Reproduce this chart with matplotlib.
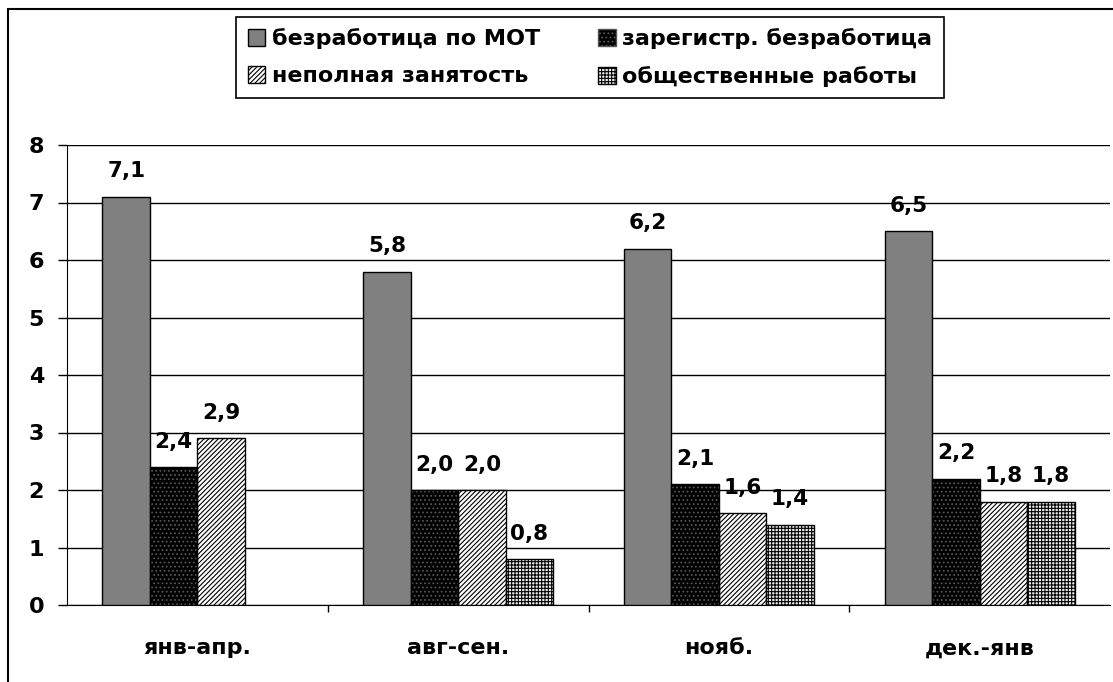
import numpy as np
import matplotlib.pyplot as plt
from matplotlib.patches import Rectangle, Patch

plt.rcParams['font.family'] = ['DejaVu Sans']
plt.rcParams['font.weight'] = 'bold'
plt.rcParams['hatch.linewidth'] = 0.8

periods = ['янв-апр.', 'авг-сен.', 'нояб.', 'дек.-янв']
series_names = ['безработица по МОТ', 'зарегистр. безработица',
                'неполная занятость', 'общественные работы']
ilo = [7.1, 5.8, 6.2, 6.5]
registered = [2.4, 2.0, 2.1, 2.2]
underemployed = [2.9, 2.0, 1.6, 1.8]
public_works = [np.nan, 0.8, 1.4, 1.8]
yticks = [0, 1, 2, 3, 4, 5, 6, 7, 8]

fig = plt.figure(figsize=(11.13, 6.82), dpi=100)
ax = fig.add_axes([67/1113, 1-605/682, 1043/1113, 460/682])

# рамка вокруг диаграммы
fig.patches.append(Rectangle((8/1113, -0.1), 1.2, 1.1-9/682, transform=fig.transFigure,
                             fill=False, edgecolor='black', linewidth=1.5))

x = np.arange(len(periods))
w = 0.182
offs = [-1.5*w, -0.5*w, 0.5*w, 1.5*w]
data = [ilo, registered, underemployed, public_works]

ax.bar(x+offs[0], ilo, w, color='#808080', edgecolor='black', linewidth=1, zorder=3)
# чёрные с точками
ax.bar(x+offs[1], registered, w, color='black', edgecolor='#555555', hatch='....', linewidth=0, zorder=3)
ax.bar(x+offs[1], registered, w, fill=False, edgecolor='black', linewidth=1, zorder=4)
ax.bar(x+offs[2], underemployed, w, color='white', edgecolor='black', hatch='///////', linewidth=1, zorder=3)
ax.bar(x+offs[3], public_works, w, color='#f0f0f0', edgecolor='black', hatch='+++++', linewidth=1, zorder=3)

for vals, o in zip(data, offs):
    for xi, v in zip(x, vals):
        if np.isnan(v):
            continue
        ax.annotate(f'{v:.1f}'.replace('.', ','), (xi+o, v), xytext=(0, 14),
                    textcoords='offset points', ha='center', va='baseline',
                    fontsize=15.5, fontweight='bold')

ax.set_ylim(0, 8)
ax.set_xlim(-0.5, 3.5)
ax.set_yticks(yticks)
ax.yaxis.grid(True, color='black', linewidth=1)
ax.set_axisbelow(True)
ax.set_xticks(x)
ax.set_xticklabels(periods)
ax.set_xticks(np.arange(0.5, 3.5, 1), minor=True)
ax.tick_params(axis='x', which='major', length=0, pad=24, labelsize=16)
ax.tick_params(axis='x', which='minor', length=5, width=1, direction='out')
ax.tick_params(axis='y', length=6.5, width=1, labelsize=16, pad=10)
for lab in ax.get_xticklabels() + ax.get_yticklabels():
    lab.set_fontweight('bold')
ax.spines['top'].set_visible(False)
ax.spines['right'].set_visible(False)

handles = [Patch(facecolor='#808080', edgecolor='black'),
           Patch(facecolor='black', edgecolor='#555555', hatch='....'),
           Patch(facecolor='white', edgecolor='black', hatch='///////'),
           Patch(facecolor='#f0f0f0', edgecolor='black', hatch='+++++')]
order = [0, 2, 1, 3]
leg = fig.legend([handles[i] for i in order], [series_names[i] for i in order],
                 ncol=2, loc='center', bbox_to_anchor=(590/1113, 1-57.5/682),
                 fancybox=False, edgecolor='black', framealpha=1,
                 prop={'size': 16, 'weight': 'bold'},
                 handlelength=0.8, handleheight=0.8, handletextpad=0.3,
                 columnspacing=2.6, labelspacing=0.75, borderpad=0.5)
leg.get_frame().set_linewidth(1.2)

fig.savefig('out.png', dpi=100)
